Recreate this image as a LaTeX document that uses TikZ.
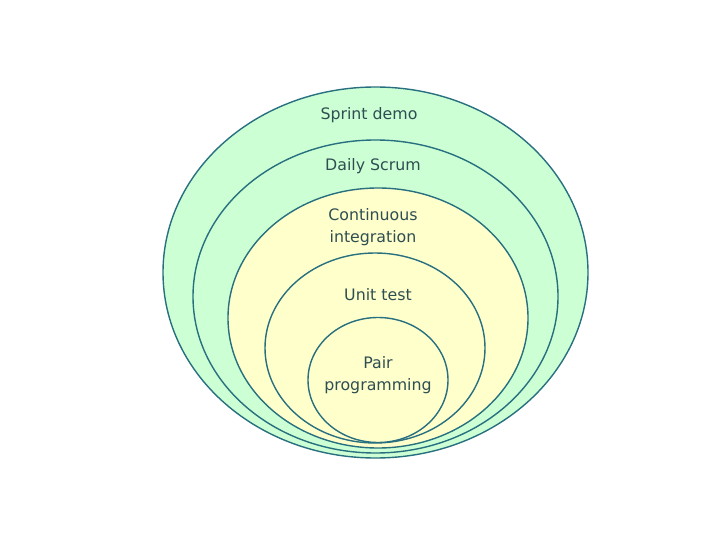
\documentclass[tikz,border=0pt]{standalone}
\usepackage{fontspec}
\setmainfont{DejaVu Sans}
\usepackage{tikz}
\usetikzlibrary{positioning}

\definecolor{ringline}{RGB}{40,112,128}
\definecolor{ringgreen}{RGB}{204,255,212}
\definecolor{ringyellow}{RGB}{255,255,204}
\definecolor{labeltext}{RGB}{47,78,82}

\begin{document}
\begin{tikzpicture}[
		x=1pt, y=-1pt,
		ring/.style={draw=ringline, line width=1.4pt},
		greenring/.style={ring, fill=ringgreen},
		yellowring/.style={ring, fill=ringyellow},
		lbl/.style={text=labeltext, align=center, font=\fontsize{15.8}{21.5}\selectfont, inner sep=0pt},
	]
		% canvas
		\useasboundingbox (0,0) rectangle (720,540);

		% rings, outer to inner
		\draw[greenring] (375.5,272.5) ellipse [x radius=212.5, y radius=185.5];
		\draw[greenring] (375.5,296.5) ellipse [x radius=182.5, y radius=156.5];
		\draw[yellowring] (378,318) ellipse [x radius=150, y radius=130];
		\draw[yellowring] (375,348) ellipse [x radius=110, y radius=95];
		\draw[yellowring] (378,380) ellipse [x radius=70, y radius=62.5];

		% labels
		\node[lbl] (sprint) at (369,115) {Sprint demo};
		\node[lbl] (scrum) at (373,166) {Daily Scrum};
		\node[lbl] (integration) at (373,227) {Continuous\\integration};
		\node[lbl] (unittest) at (378,295) {Unit test};
		\node[lbl] (pairprog) at (378,375) {Pair\\programming};
	\end{tikzpicture}
\end{document}
